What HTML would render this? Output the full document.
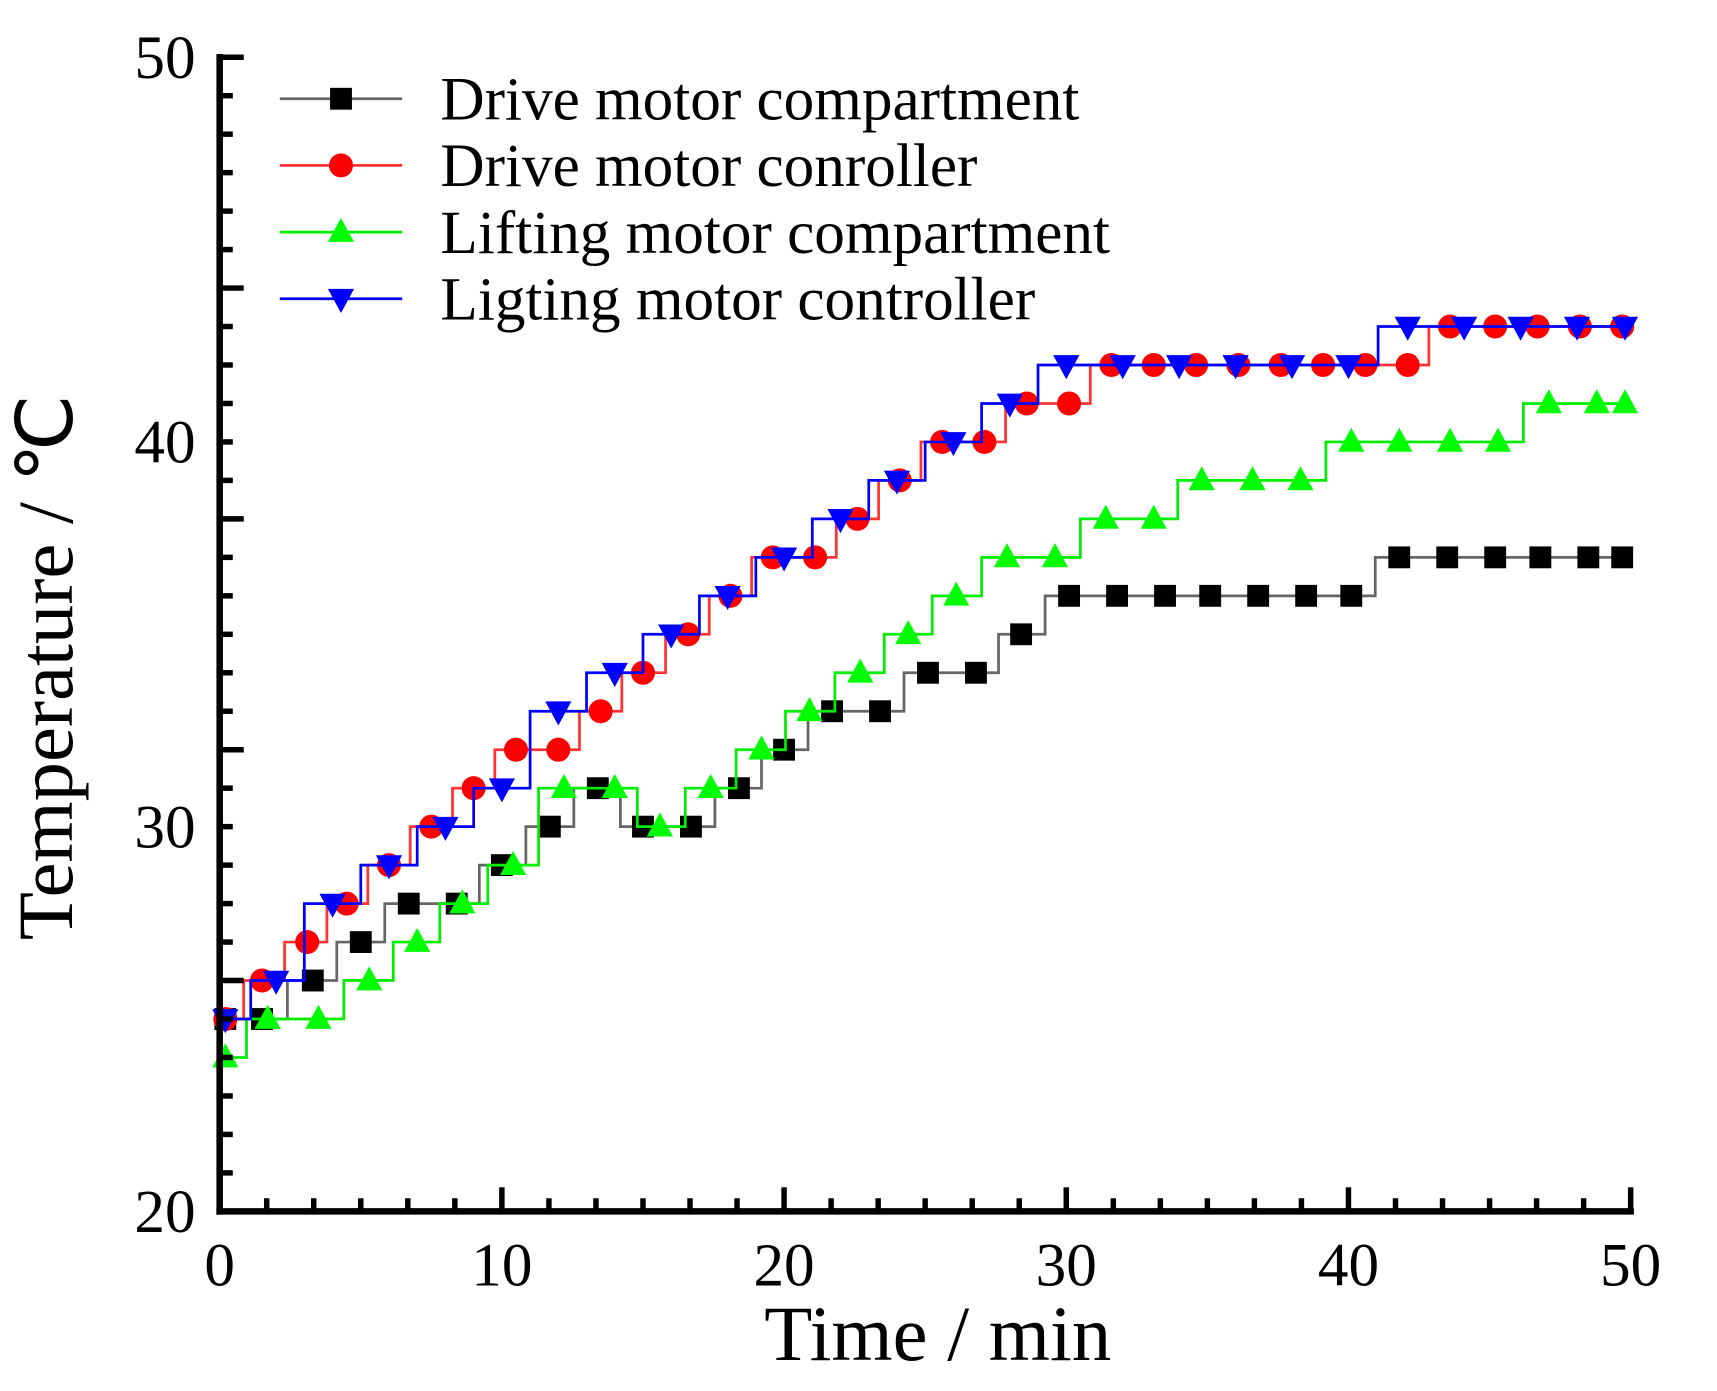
<!DOCTYPE html>
<html><head><meta charset="utf-8"><style>
html,body{margin:0;padding:0;background:#fff;}
svg{display:block;font-family:"Liberation Serif",serif;}
</style></head><body>
<svg id="chart" width="1717" height="1391" viewBox="0 0 1571 1272" xmlns="http://www.w3.org/2000/svg">
<g id="plot"></g>
</svg>
<script>
const xTicks=[0,10,20,30,40,50];
const yTicks=[20,30,40,50];
const tBlack=[0.2,1.5,3.3,5,6.7,8.4,10,11.7,13.4,15,16.7,18.4,20,21.7,23.4,25.1,26.8,28.4,30.1,31.8,33.5,35.1,36.8,38.5,40.1,41.8,43.5,45.2,46.8,48.5,49.7];
const vBlack=[25,25,26,27,28,28,29,30,31,30,30,31,32,33,33,34,34,35,36,36,36,36,36,36,36,37,37,37,37,37,37];
const tRed=[0.2,1.5,3.1,4.5,6,7.5,9,10.5,12,13.5,15,16.6,18.1,19.6,21.1,22.6,24.1,25.6,27.1,28.6,30.1,31.6,33.1,34.6,36.1,37.6,39.1,40.6,42.1,43.6,45.2,46.7,48.2,49.7];
const vRed=[25,26,27,28,29,30,31,32,32,33,34,35,36,37,37,38,39,40,40,41,41,42,42,42,42,42,42,42,42,43,43,43,43,43];
const tBlue=[0.2,2,4,6,8,10,12,14,16,18,20,22,24,26,28,30,32,34,36,38,40,42.1,44.1,46.1,48.1,49.8];
const vBlue=[25,26,28,29,30,31,33,34,35,36,37,38,39,40,41,42,42,42,42,42,42,43,43,43,43,43];
const tGreen=[0.2,1.7,3.5,5.3,7,8.6,10.4,12.2,14,15.6,17.4,19.2,20.9,22.7,24.4,26.1,27.9,29.6,31.4,33.1,34.8,36.6,38.3,40.1,41.8,43.6,45.3,47.1,48.8,49.8];
const vGreen=[24,25,25,26,27,28,29,31,31,30,31,32,33,34,35,36,37,37,38,38,39,39,39,40,40,40,40,41,41,41];

const X0=201,X1=1492,Y0=1108,Y1=52;
const xs=t=>X0+(t-0)/(50-0)*(X1-X0);
const ys=v=>Y0-(v-20)/(50-20)*(Y0-Y1);
const NS="http://www.w3.org/2000/svg";
const g=document.getElementById('plot');
function mk(tag,attrs,parent){const e=document.createElementNS(NS,tag);for(const k in attrs)e.setAttribute(k,attrs[k]);(parent||g).appendChild(e);return e;}

function stepPath(ts,vs){
  let d='M'+xs(ts[0])+','+ys(vs[0]);
  for(let i=1;i<ts.length;i++){const xm=(xs(ts[i-1])+xs(ts[i]))/2;d+=' H'+xm+' V'+ys(vs[i])+' H'+xs(ts[i]);}
  return d;
}
function marker(type,x,y,color,parent){
  let e;
  if(type==='sq'){e=mk('rect',{x:x-10,y:y-10,width:20,height:20,fill:color},parent);}
  else if(type==='ci'){e=mk('circle',{cx:x,cy:y,r:11,fill:color},parent);}
  else if(type==='up'){e=mk('polygon',{points:`${x},${y-13} ${x-12},${y+9} ${x+12},${y+9}`,fill:color},parent);}
  else {e=mk('polygon',{points:`${x},${y+13} ${x-12},${y-9} ${x+12},${y-9}`,fill:color},parent);}
  return e;
}
const series=[
 {name:'drive-motor-compartment',t:tBlack,v:vBlack,line:'#666',mc:'#000',m:'sq',label:'Drive motor compartment'},
 {name:'drive-motor-controller',t:tRed,v:vRed,line:'#f33',mc:'#f00',m:'ci',label:'Drive motor conroller'},
 {name:'lifting-motor-compartment',t:tGreen,v:vGreen,line:'#0e0',mc:'#0f0',m:'up',label:'Lifting motor compartment'},
 {name:'lifting-motor-controller',t:tBlue,v:vBlue,line:'#00f',mc:'#00f',m:'dn',label:'Ligting motor controller'}
];
series.forEach(s=>{
  const grp=mk('g',{});
  
  
  const p=mk('path',{d:stepPath(s.t,s.v),fill:'none',stroke:s.line,'stroke-width':2.5},grp);
  
  
  s.t.forEach((t,i)=>{
    const m=marker(s.m,xs(t),ys(s.v[i]),s.mc,grp);
    
    
  });
});
const ax=mk('g',{});


const yl=mk('line',{x1:X0,y1:Y1-3,x2:X0,y2:Y0+3,stroke:'#000','stroke-width':6},ax);


const xl=mk('line',{x1:X0-3,y1:Y0,x2:X1+3,y2:Y0,stroke:'#000','stroke-width':6},ax);


for(let k=0;k<=30;k++){
  const t=k*50/30, major=k%6===0;
  mk('line',{x1:xs(t),y1:Y0,x2:xs(t),y2:Y0-(major?22:12),stroke:'#000','stroke-width':5},ax);
  mk('line',{x1:X0,y1:ys(20+k),x2:X0+(major?22:12),y2:ys(20+k),stroke:'#000','stroke-width':5},ax);
}
xTicks.forEach(t=>{const e=mk('text',{x:xs(t),y:Y0+68,'font-size':56,'text-anchor':'middle'},ax);e.textContent=t;

});
yTicks.forEach(v=>{const e=mk('text',{x:X0-22,y:ys(v)+19,'font-size':56,'text-anchor':'end'},ax);e.textContent=v;

});
const xt=mk('text',{x:858,y:1244,'font-size':72,'text-anchor':'middle'},ax);xt.textContent='Time / min';


const yt=mk('text',{x:0,y:0,'font-size':72,'text-anchor':'middle',transform:'translate(66,610) rotate(-90)'},ax);yt.textContent='Temperature / \u2103';


const lg=mk('g',{});


series.forEach((s,i)=>{
  const y=90+i*61;
  const e=mk('g',{},lg);
  
  
  mk('line',{x1:256,y1:y,x2:368,y2:y,stroke:s.line,'stroke-width':2.5},e);
  marker(s.m,312,y,s.mc,e);
  const tx=mk('text',{x:403,y:y+19,'font-size':56},e);tx.textContent=s.label;
});
</script>
</body></html>
